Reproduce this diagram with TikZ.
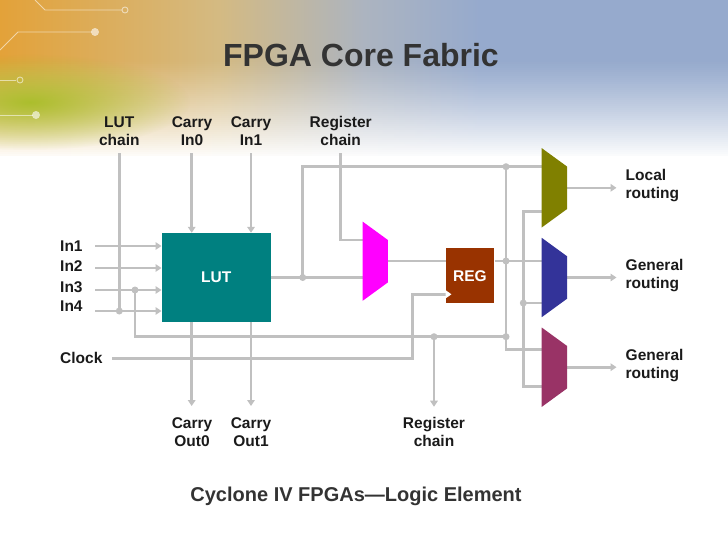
\documentclass[tikz,border=0pt]{standalone}
\usepackage{fontspec}
\setmainfont{Liberation Sans}
\usetikzlibrary{arrows.meta,calc,fadings}

\definecolor{wirec}{RGB}{192,192,192}
\definecolor{lutc}{RGB}{0,128,128}
\definecolor{regc}{RGB}{153,51,0}
\definecolor{pmuxc}{RGB}{255,0,255}
\definecolor{mOne}{RGB}{128,128,0}
\definecolor{mTwo}{RGB}{51,51,153}
\definecolor{mThree}{RGB}{153,51,102}
\definecolor{txt}{RGB}{26,26,26}
\definecolor{ttl}{RGB}{51,51,51}
\definecolor{bgO}{RGB}{240,128,30}
\definecolor{bgY}{RGB}{228,160,52}
\definecolor{bgT}{RGB}{212,186,130}
\definecolor{bgS}{RGB}{172,180,192}
\definecolor{bgB}{RGB}{150,170,205}
\definecolor{bgG}{RGB}{168,190,40}

\pgfdeclarehorizontalshading{bgshade}{100bp}{color(0bp)=(bgO); color(24bp)=(bgY); color(40bp)=(bgT); color(50bp)=(bgS); color(58bp)=(bgB); color(100bp)=(bgB)}
\tikzfading[name=blobfade, inner color=transparent!5, outer color=transparent!100]

\tikzset{
 wire/.style={draw=wirec, line width=2.6pt},
 arr/.style={-{Triangle[length=6pt,width=7.5pt]}},
 jdot/.style={circle, fill=wirec, inner sep=0pt, minimum size=7pt},
 lbl/.style={text=txt, font=\fontsize{15.5}{18}\selectfont\bfseries, align=center, inner sep=0pt},
 lbll/.style={lbl, align=left, anchor=west},
 blk/.style={inner sep=0pt, text=white, font=\fontsize{15.5}{18}\selectfont\bfseries},
 muxbox/.style={inner sep=0pt, minimum width=25pt, minimum height=79pt},
 deco/.style={white, opacity=0.55, line width=0.9pt},
}
\newcommand\muxshape[2]{\fill[#2] (#1.north west) -- ($(#1.north east)+(0,18.5)$) -- ($(#1.south east)+(0,-18.5)$) -- (#1.south west) -- cycle;}

\begin{document}
\begin{tikzpicture}[x=1pt,y=-1pt]
\useasboundingbox (0,0) rectangle (728,546);
% background
\fill[white] (0,0) rectangle (728,546);
\shade[shading=bgshade] (0,0) rectangle (728,160);
\foreach \k in {1,...,50} {
  \pgfmathsetmacro\op{(\k/50)^1.2}
  \fill[white, opacity=\op] (0,{60+(\k-1)*2}) rectangle (728,{60+\k*2});
}
\fill[white] (0,156) rectangle (728,172);
\fill[bgG, path fading=blobfade] (30,102) ellipse [x radius=160, y radius=48];
\draw[deco] (35,0) -- (45,10) -- (122,10);
\draw[deco] (125,10) circle (3);
\draw[deco] (0,50) -- (18,32) -- (92,32);
\fill[white, opacity=0.6] (95,32) circle (4);
\draw[deco] (0,80) -- (16,80);
\draw[deco] (20,80) circle (3);
\draw[deco] (0,115) -- (33,115);
\fill[white, opacity=0.6] (36,115) circle (4);

% title and caption
\node[font=\fontsize{32}{36}\selectfont\bfseries, text=ttl, inner sep=0pt] (title) at (361,55) {FPGA Core Fabric};
\node[font=\fontsize{20}{24}\selectfont\bfseries, text=ttl, inner sep=0pt] (cap) at (356,496) {Cyclone IV FPGAs---Logic Element};

% blocks
\node[blk, fill=lutc, minimum width=109pt, minimum height=89pt] (lut) at (216.2,277.5) {LUT};
\node[blk, fill=regc, minimum width=48.6pt, minimum height=55pt] (reg) at (470,275.8) {REG};
\node[muxbox] (pmux) at (375.2,261.2) {};
\node[muxbox] (mxa) at (554.4,187.8) {};
\node[muxbox] (mxb) at (554.4,277.5) {};
\node[muxbox] (mxc) at (554.4,367.2) {};

% labels
\node[lbl] (lchain) at (119.3,131) {LUT\\chain};
\node[lbl] (cin0) at (192,131) {Carry\\In0};
\node[lbl] (cin1) at (251,131) {Carry\\In1};
\node[lbl] (rcin) at (340.7,131) {Register\\chain};
\node[lbl] (cout0) at (192,432) {Carry\\Out0};
\node[lbl] (cout1) at (251,432) {Carry\\Out1};
\node[lbl] (rcout) at (434,432) {Register\\chain};
\node[lbll] (locr) at (625.5,185.5) {Local\\routing};
\node[lbll] (genr1) at (625.5,275.5) {General\\routing};
\node[lbll] (genr2) at (625.5,365.5) {General\\routing};
\node[lbll] (lin1) at (60,246.5) {In1};
\node[lbll] (lin2) at (60,266.5) {In2};
\node[lbll] (lin3) at (60,286.7) {In3};
\node[lbll] (lin4) at (60,305.7) {In4};
\node[lbll] (lclk) at (60,358.3) {Clock};

% coordinates
\coordinate (lcT) at (119.3,153);
\coordinate (ci0T) at (191.7,153);
\coordinate (ci1T) at (251,153);
\coordinate (rciT) at (340.7,153);
\coordinate (i1) at (95,246);
\coordinate (i2) at (95,268);
\coordinate (i3) at (95,290);
\coordinate (i4) at (95,311);
\coordinate (clk) at (112,358.3);
\coordinate (co0B) at (191.7,406);
\coordinate (co1B) at (251,406);
\coordinate (rcoB) at (434,406.7);
\coordinate (tap3) at (135,290);
\coordinate (busR) at (506,336.7);
\coordinate (vA) at (302.7,0);
\coordinate (vB) at (506,0);
\coordinate (vC) at (523.3,0);
\coordinate (clkX) at (412.7,0);
\coordinate (outX) at (616.5,0);
\coordinate (yA1) at (0,166.7);
\coordinate (yA2) at (0,211.7);
\coordinate (yB1) at (0,261);
\coordinate (yB2) at (0,303);
\coordinate (yC1) at (0,349.3);
\coordinate (yC2) at (0,386.7);
\coordinate (yP1) at (0,240);
\coordinate (yClk) at (0,294.3);

% wires
\draw[wire] (lcT) -- (lcT |- i4);
\draw[wire,arr] (ci0T) -- (ci0T |- lut.north);
\draw[wire,arr] (ci1T) -- (ci1T |- lut.north);
\foreach \i in {i1,i2,i3,i4} \draw[wire,arr] (\i) -- (\i -| lut.west);
\draw[wire] (tap3) |- (busR);
\draw[wire,arr] (co0B |- lut.south) -- (co0B);
\draw[wire,arr] (co1B |- lut.south) -- (co1B);
\draw[wire,arr] (rcoB |- busR) -- (rcoB);
\draw[wire] (lut.east) -- (lut.east -| pmux.west);
\draw[wire] (lut.east -| vA) |- (mxa.west |- yA1);
\draw[wire] (rciT) |- (pmux.west |- yP1);
\draw[wire] (pmux.east |- yB1) -- (reg.west |- yB1);
\draw[wire, -{Triangle[length=6pt,width=8pt,color=white]}] (clk) -| (clkX |- yClk) -- ($(reg.west |- yClk)+(6,0)$);
\draw[wire] (reg.east |- yB1) -- (mxb.west |- yB1);
\draw[wire] (vB |- yA1) |- (mxc.west |- yC1);
\draw[wire] (mxa.west |- yA2) -| (vC |- yC2) -- (mxc.west |- yC2);
\draw[wire] (vC |- yB2) -- (mxb.west |- yB2);
\draw[wire,arr] (mxa.east) -- (mxa.east -| outX);
\draw[wire,arr] (mxb.east) -- (mxb.east -| outX);
\draw[wire,arr] (mxc.east) -- (mxc.east -| outX);

% junction dots
\node[jdot] at (lcT |- i4) {};
\node[jdot] at (tap3) {};
\node[jdot] at (lut.east -| vA) {};
\node[jdot] at (vB |- yA1) {};
\node[jdot] at (vB |- yB1) {};
\node[jdot] at (vB |- busR) {};
\node[jdot] at (rcoB |- busR) {};
\node[jdot] at (vC |- yB2) {};

% mux shapes
\muxshape{pmux}{pmuxc}
\muxshape{mxa}{mOne}
\muxshape{mxb}{mTwo}
\muxshape{mxc}{mThree}
\end{tikzpicture}
\end{document}
